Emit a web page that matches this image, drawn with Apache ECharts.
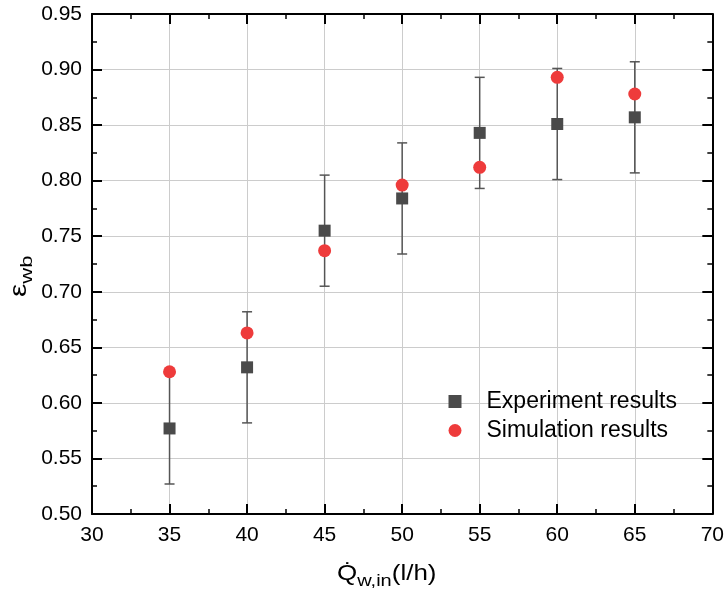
<!DOCTYPE html>
<html><head><meta charset="utf-8">
<script src="https://cdn.jsdelivr.net/npm/echarts@6/dist/echarts.min.js"></script>
<style>html,body{margin:0;padding:0;background:#fff}#c{width:727px;height:594px}</style>
</head><body><div id="c"></div>
<script>
var flowRates = [35, 40, 45, 50, 55, 60, 65];
var experiment = [0.577, 0.632, 0.755, 0.784, 0.843, 0.851, 0.857];
var errLow = [0.527, 0.582, 0.705, 0.734, 0.793, 0.801, 0.807];
var errHigh = [0.627, 0.682, 0.805, 0.834, 0.893, 0.901, 0.907];
var simulation = [0.628, 0.663, 0.737, 0.796, 0.812, 0.893, 0.878];

var font = 'Liberation Sans, Arial, sans-serif';
var chart = echarts.init(document.getElementById('c'), null, {renderer: 'canvas'});

var axisCommon = {
  type: 'value',
  axisLine: {show: true, onZero: false, lineStyle: {color: '#000', width: 2}},
  axisTick: {show: true, inside: true, length: 10, lineStyle: {color: '#000', width: 2}},
  minorTick: {show: true, splitNumber: 2, length: 5, lineStyle: {color: '#000', width: 1.5}},
  minorSplitLine: {show: false}
};

var xBase = Object.assign({}, axisCommon, {min: 30, max: 70, interval: 5});
var yBase = Object.assign({}, axisCommon, {min: 0.50, max: 0.95, interval: 0.05});

chart.setOption({
  animation: false,
  backgroundColor: '#fff',
  grid: {left: 92, right: 11, top: 14, bottom: 80},
  xAxis: [
    Object.assign({}, xBase, {position: 'bottom',
      axisLabel: {color: '#000', fontSize: 21, fontFamily: font, margin: 11},
      splitLine: {show: true, lineStyle: {color: '#cccccc', width: 1}}}),
    Object.assign({}, xBase, {position: 'top', axisLabel: {show: false}, splitLine: {show: false}})
  ],
  yAxis: [
    Object.assign({}, yBase, {position: 'left',
      axisLabel: {color: '#000', fontSize: 21, fontFamily: font, margin: 10,
        formatter: function (v) { return v.toFixed(2); }},
      splitLine: {show: true, lineStyle: {color: '#cccccc', width: 1}}}),
    Object.assign({}, yBase, {position: 'right', axisLabel: {show: false}, splitLine: {show: false}})
  ],
  legend: {
    orient: 'vertical', left: 443.5, top: 385, itemGap: 6,
    itemWidth: 13, itemHeight: 13,
    textStyle: {fontSize: 23, fontFamily: font, color: '#000', padding: [0, 0, 0, 20]},
    data: [
      {name: 'Experiment results', icon: 'rect'},
      {name: 'Simulation results', icon: 'circle'}
    ]
  },
  graphic: [
    {type: 'text', x: 337, y: 559, scaleX: 1.18, style: {
      rich: {
        q: {fontSize: 22, fontFamily: font, fill: '#000', lineHeight: 26, verticalAlign: 'bottom'},
        s: {fontSize: 17, fontFamily: font, fill: '#000', lineHeight: 20, verticalAlign: 'bottom', padding: [0, 0, -5, 0]}
      },
      text: '{q|Q\u0307}{s|w,in}{q|(l/h)}'
    }},
    {type: 'text', x: 5, y: 297, rotation: Math.PI / 2, scaleX: 1.3, style: {
      rich: {
        e: {fontSize: 23, fontFamily: font, fill: '#000', lineHeight: 26, verticalAlign: 'bottom'},
        s: {fontSize: 17, fontFamily: font, fill: '#000', lineHeight: 20, verticalAlign: 'bottom', padding: [0, 0, -5, 0]}
      },
      text: '{e|\u03b5}{s|wb}'
    }}
  ],
  series: [
    {
      name: 'errorbars', type: 'custom', z: 2,
      data: flowRates.map(function (x, i) { return [x, errLow[i], errHigh[i]]; }),
      renderItem: function (params, api) {
        var lo = api.coord([api.value(0), api.value(1)]);
        var hi = api.coord([api.value(0), api.value(2)]);
        var w = 5;
        var st = {stroke: '#555555', lineWidth: 1.5};
        return {type: 'group', children: [
          {type: 'line', shape: {x1: lo[0], y1: lo[1], x2: hi[0], y2: hi[1]}, style: st},
          {type: 'line', shape: {x1: lo[0] - w, y1: lo[1], x2: lo[0] + w, y2: lo[1]}, style: st},
          {type: 'line', shape: {x1: hi[0] - w, y1: hi[1], x2: hi[0] + w, y2: hi[1]}, style: st}
        ]};
      }
    },
    {
      name: 'Experiment results', type: 'scatter', symbol: 'rect', symbolSize: 12, z: 3,
      itemStyle: {color: '#4a4a4a', opacity: 1},
      data: flowRates.map(function (x, i) { return [x, experiment[i]]; })
    },
    {
      name: 'Simulation results', type: 'scatter', symbol: 'circle', symbolSize: 13, z: 4,
      itemStyle: {color: '#ee3b3b', opacity: 1},
      data: flowRates.map(function (x, i) { return [x, simulation[i]]; })
    }
  ]
});
</script></body></html>
